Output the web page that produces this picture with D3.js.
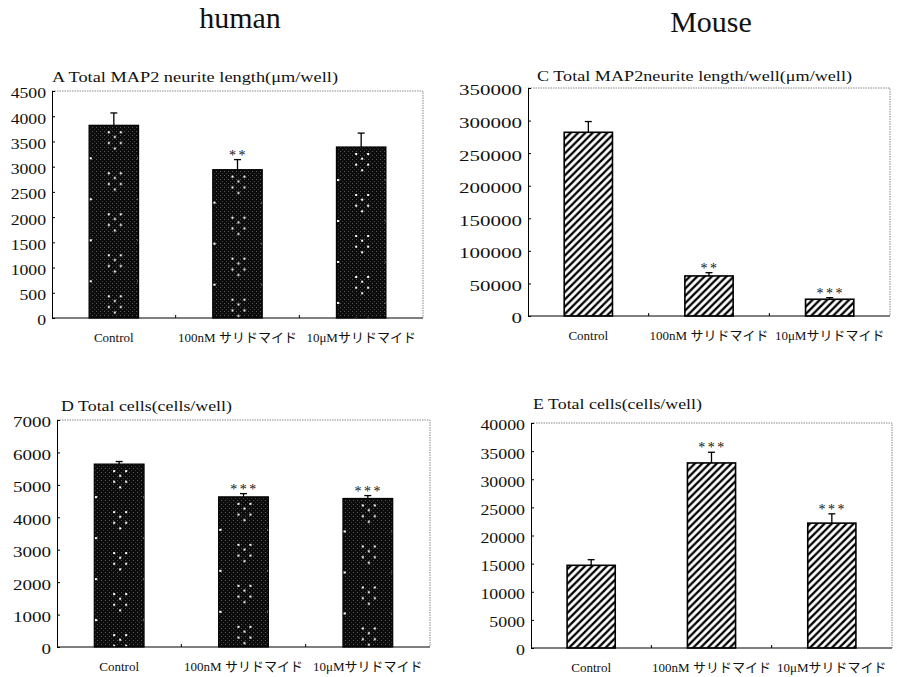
<!DOCTYPE html>
<html>

<head>
    <meta charset='utf-8'>
    <title>Thalidomide neurite panels</title>
    <script type='text/javascript' src='https://cdn.jsdelivr.net/npm/d3@7/dist/d3.min.js'></script>
    <style>
        body { margin: 0; background: #fff; }
        text { font-family: 'Liberation Serif', 'Noto Sans CJK JP', serif; fill: #111; }
    </style>
</head>

<body>
    <svg width='897' height='677'></svg>
    <script type='text/javascript'>
        // categories shared by all four panels
        const categories = ['Control', '100nM サリドマイド', '10μMサリドマイド']

        // A: human, total MAP2 neurite length
        const valuesA = [3820, 2940, 3390]
        const errorsA = [245, 200, 275]
        const starsA = ['', '**', '']
        const ticksA = [0, 500, 1000, 1500, 2000, 2500, 3000, 3500, 4000, 4500]

        // C: mouse, total MAP2 neurite length
        const valuesC = [282000, 61500, 25700]
        const errorsC = [16500, 5000, 2500]
        const starsC = ['', '**', '***']
        const ticksC = [0, 50000, 100000, 150000, 200000, 250000, 300000, 350000]

        // D: human, total cells
        const valuesD = [5640, 4630, 4580]
        const errorsD = [80, 100, 90]
        const starsD = ['', '***', '***']
        const ticksD = [0, 1000, 2000, 3000, 4000, 5000, 6000, 7000]

        // E: mouse, total cells
        const valuesE = [14700, 32900, 22200]
        const errorsE = [1000, 1900, 1650]
        const starsE = ['', '***', '***']
        const ticksE = [0, 5000, 10000, 15000, 20000, 25000, 30000, 35000, 40000]

        const svg = d3.select('svg')
        svg.append('rect').attr('width', 897).attr('height', 677).attr('fill', '#fff')

        const defs = svg.append('defs')
        // fine grey speckle for the dark bars
        const speck = defs.append('pattern').attr('id', 'speck')
            .attr('patternUnits', 'userSpaceOnUse').attr('width', 4).attr('height', 4)
        speck.append('rect').attr('width', 4).attr('height', 4).attr('fill', '#0c0c0c')
        speck.append('rect').attr('x', 0).attr('y', 0).attr('width', 1).attr('height', 1).attr('fill', '#5a5a5a')
        speck.append('rect').attr('x', 2).attr('y', 2).attr('width', 1).attr('height', 1).attr('fill', '#3a3a3a')
        // diagonal hatch for the mouse bars
        const hatch = defs.append('pattern').attr('id', 'hatch')
            .attr('patternUnits', 'userSpaceOnUse').attr('width', 7.3).attr('height', 7.3)
        hatch.append('rect').attr('width', 7.3).attr('height', 7.3).attr('fill', '#fff')
        hatch.append('path')
            .attr('d', 'M0,7.3 L7.3,0 M-2,2 L2,-2 M5.3,9.3 L9.3,5.3')
            .attr('stroke', '#000').attr('stroke-width', 2.3)

        // headers
        svg.append('text').attr('x', 240).attr('y', 28).attr('text-anchor', 'middle')
            .attr('font-family', 'Liberation Serif').attr('font-size', 30).text('human')
        svg.append('text').attr('x', 711).attr('y', 32).attr('text-anchor', 'middle')
            .attr('font-family', 'Liberation Serif').attr('font-size', 30).text('Mouse')

        const panels = [
            { id: 'A', title: 'A Total MAP2 neurite length(μm/well)', values: valuesA, errors: errorsA, stars: starsA, ticks: ticksA,
              x: 52, y: 91, w: 371, h: 227, fill: 'dots', titleX: 52, titleY: 82, titleLen: 286, tickStretch: 1.18 },
            { id: 'C', title: 'C Total MAP2neurite length/well(μm/well)', values: valuesC, errors: errorsC, stars: starsC, ticks: ticksC,
              x: 528, y: 88, w: 362, h: 228, fill: 'hatch', titleX: 537, titleY: 81, titleLen: 315, tickStretch: 1.4 },
            { id: 'D', title: 'D Total cells(cells/well)', values: valuesD, errors: errorsD, stars: starsD, ticks: ticksD,
              x: 57, y: 420, w: 373, h: 227, fill: 'dots', titleX: 61, titleY: 411, titleLen: 171, tickStretch: 1.27 },
            { id: 'E', title: 'E Total cells(cells/well)', values: valuesE, errors: errorsE, stars: starsE, ticks: ticksE,
              x: 531, y: 423, w: 361, h: 225, fill: 'hatch', titleX: 533, titleY: 409, titleLen: 169, tickStretch: 1.19 }
        ]

        panels.forEach(p => {
            const g = svg.append('g').attr('transform', `translate(${p.x},${p.y})`)
            const x = d3.scaleBand().domain(categories).range([0, p.w]).paddingInner(0.6).paddingOuter(0.3)
            const y = d3.scaleLinear().domain([0, d3.max(p.ticks)]).range([p.h, 0])

            // title
            svg.append('text').attr('x', p.titleX).attr('y', p.titleY)
                .attr('font-size', 14).attr('textLength', p.titleLen).attr('lengthAdjust', 'spacingAndGlyphs')
                .text(p.title)

            // dotted frame on top and right
            g.append('path').attr('d', `M0,0 H${p.w} V${p.h}`)
                .attr('fill', 'none').attr('stroke', '#888').attr('stroke-width', 1).attr('stroke-dasharray', '1.5,1')

            // bars
            const bars = g.append('g').selectAll('g').data(categories).enter().append('g')
            bars.each(function (c, i) {
                const bx = x(c), bw = x.bandwidth(), top = y(p.values[i])
                const b = d3.select(this)
                if (p.fill === 'dots') {
                    b.append('rect').attr('x', bx).attr('y', top).attr('width', bw).attr('height', p.h - top)
                        .attr('fill', 'url(#speck)')
                    // white dot clusters, one column per bar
                    const pid = `dots${p.id}${i}`
                    const pat = defs.append('pattern').attr('id', pid).attr('patternUnits', 'userSpaceOnUse')
                        .attr('x', bx + bw / 2 - 6).attr('y', top + 6).attr('width', bw).attr('height', 41)
                    const dots = [[0, 0], [12, 0], [6, 4.7], [0, 10.7], [12, 10.7], [6, 16.3], [-18, 26], [30, 26]]
                    dots.forEach(d => pat.append('rect').attr('x', d[0] + (d[0] < 0 ? bw : 0)).attr('y', d[1])
                        .attr('width', 2).attr('height', 2).attr('fill', '#fff'))
                    b.append('rect').attr('x', bx).attr('y', top).attr('width', bw).attr('height', p.h - top)
                        .attr('fill', `url(#${pid})`)
                        .attr('stroke', '#000').attr('stroke-width', 1.2)
                } else {
                    b.append('rect').attr('x', bx).attr('y', top).attr('width', bw).attr('height', p.h - top)
                        .attr('fill', 'url(#hatch)').attr('stroke', '#000').attr('stroke-width', 1.6)
                }
                // upper error bar
                const cx = bx + bw / 2, et = y(p.values[i] + p.errors[i])
                b.append('line').attr('x1', cx).attr('x2', cx).attr('y1', top).attr('y2', et)
                    .attr('stroke', '#000').attr('stroke-width', 1.3)
                b.append('line').attr('x1', cx - 3.5).attr('x2', cx + 3.5).attr('y1', et).attr('y2', et)
                    .attr('stroke', '#000').attr('stroke-width', 1.3)
                if (p.stars[i]) {
                    b.append('text').attr('x', cx + 1).attr('y', et).attr('text-anchor', 'middle')
                        .attr('font-size', 14).attr('letter-spacing', 2.5).attr('fill', '#333').text(p.stars[i])
                }
            })

            // y axis with inner ticks
            g.append('g').call(d3.axisLeft(y).tickValues(p.ticks).tickSize(-3).tickFormat(''))
                .call(a => a.select('.domain').attr('stroke', '#000'))
            g.selectAll('.ylab').data(p.ticks).enter().append('g')
                .attr('transform', d => `translate(-6,${y(d) + 4}) scale(${p.tickStretch},1)`)
                .append('text').attr('text-anchor', 'end').attr('dominant-baseline', 'middle')
                .attr('font-size', 15).text(d => d)

            // x axis line with small ticks between categories
            g.append('line').attr('x1', 0).attr('x2', p.w).attr('y1', p.h).attr('y2', p.h)
                .attr('stroke', '#000').attr('stroke-width', 1.2)
            g.selectAll('.xtick').data([1, 2]).enter().append('line')
                .attr('x1', d => d * x.step()).attr('x2', d => d * x.step())
                .attr('y1', p.h).attr('y2', p.h - 3).attr('stroke', '#000')
            g.selectAll('.xlab').data(categories).enter().append('text')
                .attr('x', d => x(d) + x.bandwidth() / 2).attr('y', p.h + 24)
                .attr('text-anchor', 'middle').attr('font-size', 13)
                .text(d => d)
        })
    </script>
</body>

</html>
